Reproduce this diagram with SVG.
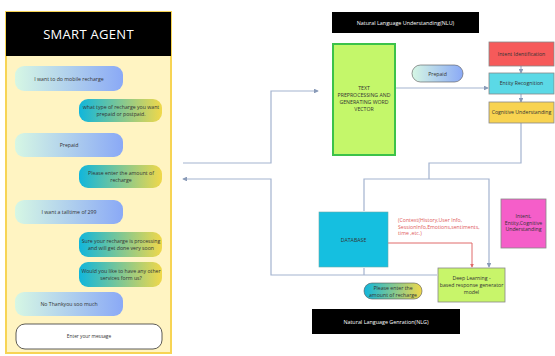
<svg xmlns="http://www.w3.org/2000/svg" width="555" height="356" viewBox="0 0 555 356">
<defs>
<linearGradient id="gL" x1="0" y1="0" x2="1" y2="0"><stop offset="0" stop-color="#d6f7e4"/><stop offset="1" stop-color="#8aa9f6"/></linearGradient>
<linearGradient id="gR" x1="0" y1="0" x2="1" y2="0"><stop offset="0" stop-color="#10b6dc"/><stop offset="1" stop-color="#f0d84a"/></linearGradient>
<marker id="ab" viewBox="0 0 6 6" refX="5" refY="3" markerWidth="4" markerHeight="4" orient="auto"><path d="M0,0 L6,3 L0,6 z" fill="#8a9bb8"/></marker>
<marker id="ar" viewBox="0 0 6 6" refX="5" refY="3" markerWidth="4" markerHeight="4" orient="auto"><path d="M0,0 L6,3 L0,6 z" fill="#e06a6a"/></marker>
<style>
text{font-family:"Open Sans","Liberation Sans",sans-serif;fill:#333;text-anchor:middle}
.s{font-size:5.2px}
.w{fill:#fff}
.bl{fill:url(#gL)}
.br{fill:url(#gR)}
.c{fill:none;stroke:#a3b3cf;stroke-width:1.2}
.r{fill:none;stroke:#e06a6a;stroke-width:1}
.box{stroke:#888;stroke-width:0.8}
</style>
</defs>
<rect width="555" height="356" fill="#fff"/>

<g id="chat">
<rect x="6" y="12" width="165" height="341" fill="#fff4c2" stroke="#f7d454" stroke-width="2"/>
<rect x="6" y="12" width="165" height="44" fill="#000"/>
<text x="88.5" y="39" class="w" style="font-size:13px;letter-spacing:0.3px">SMART AGENT</text>
<g id="m1"><rect x="15" y="66" width="108" height="25" rx="9" class="bl"/><text x="69" y="80.5" class="s">I want to do mobile recharge</text></g>
<g id="m2"><rect x="79" y="99" width="83" height="23" rx="9" class="br"/><text x="121" y="109" class="s">what type of recharge you want</text><text x="121" y="116" class="s">prepaid or postpaid.</text></g>
<g id="m3"><rect x="15" y="133" width="108" height="24" rx="9" class="bl"/><text x="69" y="146.5" class="s">Prepaid</text></g>
<g id="m4"><rect x="79" y="165" width="83" height="23" rx="9" class="br"/><text x="121" y="175" class="s">Please enter the amount of</text><text x="121" y="182" class="s">recharge</text></g>
<g id="m5"><rect x="15" y="200" width="108" height="24" rx="9" class="bl"/><text x="69" y="213.5" class="s">I want a talltime of 299</text></g>
<g id="m6"><rect x="79" y="232" width="83" height="25" rx="9" class="br"/><text x="121" y="243" class="s">Sure your recharge is processing</text><text x="121" y="250" class="s">and will get done very soon</text></g>
<g id="m7"><rect x="79" y="262" width="83" height="25" rx="9" class="br"/><text x="121" y="273" class="s">Would you like to have any other</text><text x="121" y="280" class="s">services form us?</text></g>
<g id="m8"><rect x="15" y="292" width="108" height="24" rx="9" class="bl"/><text x="69" y="305.5" class="s">No Thankyou soo much</text></g>
<g id="input"><rect x="16" y="324" width="146" height="25" rx="9" fill="#fff" stroke="#333" stroke-width="0.8"/><text x="89" y="338" class="s" style="font-size:4.8px">Enter your message</text></g>
</g>

<g id="connectors">
<path class="c" d="M183,163 H271 V91 H318" marker-end="url(#ab)"/>
<path class="c" d="M437,275 H271 V179 H183" marker-end="url(#ab)"/>
<path class="c" d="M364,268 V275"/>
<path class="c" d="M395,88 H488" marker-end="url(#ab)"/>
<path class="c" d="M521,66 V73" marker-end="url(#ab)"/>
<path class="c" d="M521,94 V102" marker-end="url(#ab)"/>
<path class="c" d="M521,123 V163 H429 V179"/>
<path class="c" d="M364,211 V179 H489 V267" marker-end="url(#ab)"/>
<path class="r" d="M388,243 H472 V267" marker-end="url(#ar)"/>
</g>

<g id="nlu"><rect x="332" y="12" width="147" height="21" fill="#000"/><text x="405.5" y="24.5" class="w" style="font-size:5.4px">Natural Language Understanding(NLU)</text></g>

<g id="text-pre"><rect x="333" y="44" width="62" height="111" fill="#c4f76a" stroke="#3cc24a" stroke-width="2"/>
<text x="364" y="90" class="s">TEXT</text><text x="364" y="97" class="s">PREPROCESSING AND</text><text x="364" y="104" class="s">GENERATING WORD</text><text x="364" y="111" class="s">VECTOR</text></g>

<g id="prepaid-pill"><rect x="412" y="65" width="51" height="17" rx="8.5" class="bl" stroke="#555" stroke-width="0.6"/><text x="437.5" y="75.5" class="s">Prepaid</text></g>

<g id="intent"><rect x="489" y="42" width="65" height="24" fill="#f65a5a" class="box"/><text x="521.5" y="55.5" class="s">Intent Identification</text></g>
<g id="entity"><rect x="489" y="73" width="65" height="21" fill="#5bd9e6" class="box"/><text x="521.5" y="85" class="s">Entity Recognition</text></g>
<g id="cognitive"><rect x="489" y="102" width="65" height="21" fill="#f8d350" class="box"/><text x="521.5" y="114" class="s">Cognitive Understanding</text></g>

<g id="database"><rect x="319" y="212" width="69" height="55" fill="#15bfe0" stroke="#6aa" stroke-width="0.6"/><text x="353.5" y="241.5" class="s">DATABASE</text></g>

<g id="context-label">
<text x="398" y="222" class="s" style="fill:#e05a5a;text-anchor:start">(Context(History,User Info,</text>
<text x="398" y="228.5" class="s" style="fill:#e05a5a;text-anchor:start">SessionInfo,Emotions,sentiments,</text>
<text x="398" y="235" class="s" style="fill:#e05a5a;text-anchor:start">time ,etc.)</text>
</g>

<g id="summary"><rect x="501" y="199" width="45" height="49" fill="#f55ec9" class="box"/>
<text x="523.5" y="218" class="s">Intent,</text><text x="523.5" y="224.5" class="s">Entity,Cognitive</text><text x="523.5" y="231" class="s">Understanding</text></g>

<g id="deep"><rect x="438" y="268" width="67" height="34" fill="#c8f56a" class="box"/>
<text x="471.5" y="280" class="s">Deep Learning -</text><text x="471.5" y="287" class="s">based response generator</text><text x="471.5" y="294" class="s">model</text></g>

<g id="reply-pill"><rect x="364" y="283" width="58" height="16" rx="8" class="br" stroke="#555" stroke-width="0.6"/>
<text x="393" y="290" class="s">Please enter the</text><text x="393" y="296.5" class="s">amount of recharge</text></g>

<g id="nlg"><rect x="312" y="309" width="148" height="25" fill="#000"/><text x="386" y="323.5" class="w" style="font-size:5.4px">Natural Language Genration(NLG)</text></g>
</svg>
